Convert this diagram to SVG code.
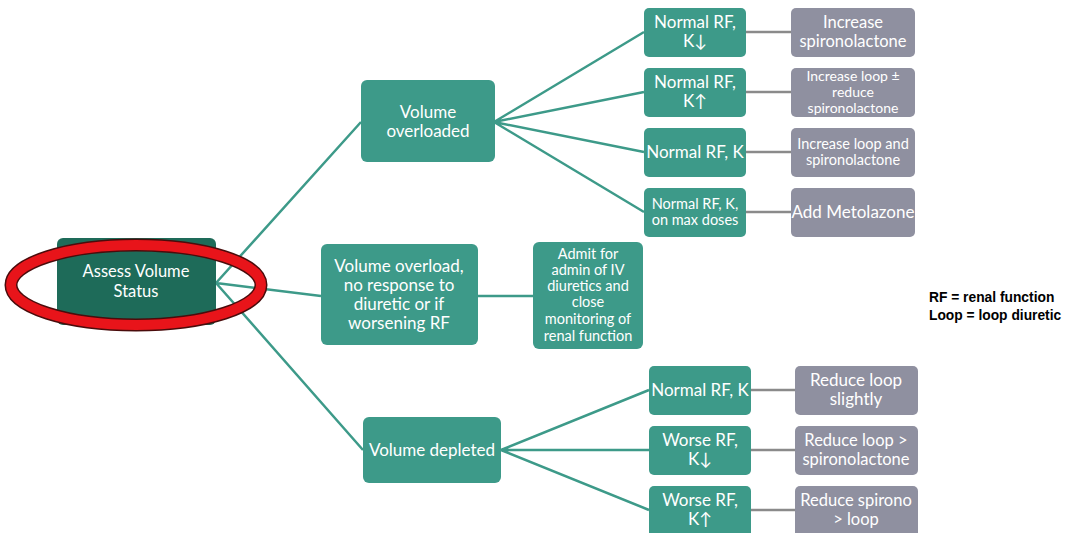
<svg xmlns="http://www.w3.org/2000/svg" width="1068" height="533" viewBox="0 0 1068 533">
<style>
.g{fill:#3d9a89}
.d{fill:#1e6b59}
.y{fill:#8f90a0}
text{font-family:Lato,"Open Sans","Liberation Sans",sans-serif;fill:#ffffff;text-anchor:middle}
.t17{font-size:17px}
.t16{font-size:16.5px}
.t14{font-size:14.5px}
.t13{font-size:14px}
.c{stroke:#3d9a89;stroke-width:2.5;fill:none}
.cg{stroke:#8a8a8a;stroke-width:2.5;fill:none}
.lg{fill:#000;font-family:"Liberation Sans",Arial,sans-serif;font-weight:bold;font-size:13.8px;text-anchor:start}
</style>
<rect width="1068" height="533" fill="#ffffff"/>
<g id="connectors">
<path class="c" d="M216 283L361 122M216 283L321 296M216 283L363 450"/>
<path class="c" d="M494 122L644 32M494 122L644 92M494 122L644 152M494 122L644 212"/>
<path class="c" d="M478 296L533 296"/>
<path class="c" d="M501 450L649 390M501 450L649 450M501 450L649 510"/>
<path class="cg" d="M746 32L791 32M746 92L791 92M746 152L791 152M746 212L791 212"/>
<path class="cg" d="M751 390L795 390M751 450L795 450M751 510L795 510"/>
</g>
<g id="assess">
<rect class="d" x="57" y="238" width="159" height="87" rx="6"/>
<text x="136" y="277" font-size="16.5">Assess Volume</text>
<text x="136" y="297" font-size="16.5">Status</text>
<ellipse cx="136" cy="285" rx="125" ry="40" fill="none" stroke="#4a0c0c" stroke-width="13"/>
<ellipse cx="136" cy="285" rx="125" ry="40" fill="none" stroke="#e8141a" stroke-width="10"/>
</g>
<g id="overloaded">
<rect class="g" x="361" y="80" width="134" height="82" rx="6"/>
<text class="t17" x="428" y="118">Volume</text>
<text class="t17" x="428" y="137">overloaded</text>
</g>
<g id="noresponse">
<rect class="g" x="321" y="244" width="157" height="101" rx="6"/>
<text class="t17" x="399" y="272">Volume overload,</text>
<text class="t17" x="399" y="291">no response to</text>
<text class="t17" x="399" y="310">diuretic or if</text>
<text class="t17" x="399" y="329">worsening RF</text>
</g>
<g id="admit">
<rect class="g" x="533" y="242" width="110" height="107" rx="6"/>
<text class="t14" x="588" y="259">Admit for</text>
<text class="t14" x="588" y="275">admin of IV</text>
<text class="t14" x="588" y="291">diuretics and</text>
<text class="t14" x="588" y="307">close</text>
<text class="t14" x="588" y="324">monitoring of</text>
<text class="t14" x="588" y="341">renal function</text>
</g>
<g id="depleted">
<rect class="g" x="363" y="417" width="138" height="66" rx="6"/>
<text class="t17" x="432" y="456">Volume depleted</text>
</g>
<g id="o1">
<rect class="g" x="644" y="8" width="102" height="49" rx="5"/>
<text class="t17" x="695" y="28">Normal RF,</text>
<text class="t17" x="695" y="47">K↓</text>
</g>
<g id="o1a">
<rect class="y" x="791" y="8" width="124" height="49" rx="5"/>
<text class="t16" x="853" y="28">Increase</text>
<text class="t16" x="853" y="47">spironolactone</text>
</g>
<g id="o2">
<rect class="g" x="644" y="68" width="102" height="49" rx="5"/>
<text class="t17" x="695" y="88">Normal RF,</text>
<text class="t17" x="695" y="107">K↑</text>
</g>
<g id="o2a">
<rect class="y" x="791" y="68" width="124" height="49" rx="5"/>
<text class="t13" x="853" y="81">Increase loop ±</text>
<text class="t13" x="853" y="97">reduce</text>
<text class="t13" x="853" y="113">spironolactone</text>
</g>
<g id="o3">
<rect class="g" x="644" y="128" width="102" height="49" rx="5"/>
<text class="t17" x="695" y="158">Normal RF, K</text>
</g>
<g id="o3a">
<rect class="y" x="791" y="128" width="124" height="49" rx="5"/>
<text class="t14" x="853" y="149">Increase loop and</text>
<text class="t14" x="853" y="165">spironolactone</text>
</g>
<g id="o4">
<rect class="g" x="644" y="188" width="102" height="49" rx="5"/>
<text class="t14" x="695" y="209">Normal RF, K,</text>
<text class="t14" x="695" y="225">on max doses</text>
</g>
<g id="o4a">
<rect class="y" x="791" y="188" width="124" height="49" rx="5"/>
<text class="t17" x="853" y="218">Add Metolazone</text>
</g>
<g id="d1">
<rect class="g" x="649" y="366" width="102" height="49" rx="5"/>
<text class="t17" x="700" y="396">Normal RF, K</text>
</g>
<g id="d1a">
<rect class="y" x="795" y="366" width="123" height="49" rx="5"/>
<text class="t17" x="856" y="386">Reduce loop</text>
<text class="t17" x="856" y="405">slightly</text>
</g>
<g id="d2">
<rect class="g" x="649" y="426" width="102" height="49" rx="5"/>
<text class="t17" x="700" y="446">Worse RF,</text>
<text class="t17" x="700" y="465">K↓</text>
</g>
<g id="d2a">
<rect class="y" x="795" y="426" width="123" height="49" rx="5"/>
<text class="t16" x="856" y="446">Reduce loop &gt;</text>
<text class="t16" x="856" y="465">spironolactone</text>
</g>
<g id="d3">
<rect class="g" x="649" y="486" width="102" height="52" rx="5"/>
<text class="t17" x="700" y="506">Worse RF,</text>
<text class="t17" x="700" y="525">K↑</text>
</g>
<g id="d3a">
<rect class="y" x="795" y="486" width="123" height="52" rx="5"/>
<text class="t16" x="856" y="506">Reduce spirono</text>
<text class="t16" x="856" y="525">&gt; loop</text>
</g>
<g id="legend">
<text class="lg" x="929" y="302">RF = renal function</text>
<text class="lg" x="929" y="320">Loop = loop diuretic</text>
</g>
</svg>
